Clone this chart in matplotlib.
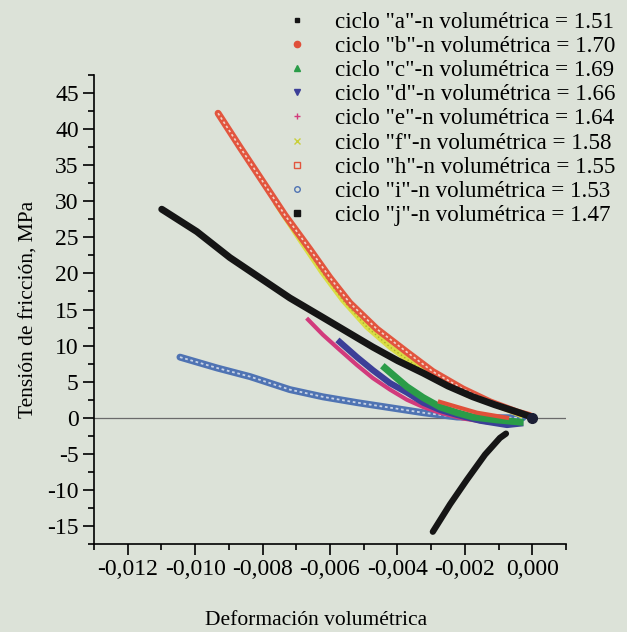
import matplotlib
matplotlib.use("Agg")
import matplotlib.pyplot as plt
from matplotlib.ticker import MultipleLocator, FuncFormatter
from matplotlib.lines import Line2D

# datos (deformacion x1000, tension en MPa)
h_x = [-9.32, -8.67, -7.99, -7.34, -6.59, -6.00, -5.41, -4.61, -3.72, -2.95, -2.06, -1.25, -0.45, -0.07]
h_y = [42.2, 37.5, 32.7, 28.1, 23.3, 19.4, 15.9, 12.3, 9.1, 6.4, 4.0, 2.2, 0.8, 0.3]

f_x = [-7.57, -6.89, -6.24, -5.62, -4.91, -4.22, -3.42, -2.74, -1.94, -1.25, -0.36]
f_y = [29.5, 24.7, 20.2, 16.3, 12.6, 9.8, 7.1, 5.3, 3.2, 2.1, 0.4]

j_x = [-10.99, -9.95, -8.97, -8.08, -7.19, -6.21, -5.20, -4.73, -3.99, -3.24, -2.50, -1.76, -1.11, -0.45, -0.01]
j_y = [28.9, 25.8, 22.2, 19.4, 16.6, 13.9, 11.1, 9.8, 7.9, 6.2, 4.4, 2.9, 1.8, 0.8, 0.1]

e_x = [-6.65, -6.21, -5.71, -5.20, -4.73, -4.22, -3.72, -3.24, -2.74, -2.06, -1.25, -0.51]
e_y = [13.6, 11.5, 9.4, 7.3, 5.5, 3.9, 2.5, 1.5, 0.7, -0.1, -0.7, -0.7]

d_x = [-5.71, -5.20, -4.73, -4.22, -3.72, -3.24, -2.74, -2.23, -1.55, -0.75, -0.36]
d_y = [10.5, 8.4, 6.6, 4.8, 3.5, 2.1, 1.1, 0.4, -0.4, -1.0, -0.8]

c_x = [-4.37, -3.72, -3.24, -2.74, -2.23, -1.76, -1.05, -0.36]
c_y = [6.9, 4.3, 2.8, 1.5, 0.7, 0.1, -0.3, -0.6]

b_x = [-2.74, -2.23, -1.64, -0.75]
b_y = [2.2, 1.5, 0.7, 0.0]

i_x = [-10.45, -9.35, -8.37, -7.19, -6.21, -5.20, -4.22, -3.24, -2.23, -1.25, -0.28]
i_y = [8.4, 6.9, 5.7, 3.9, 2.9, 2.1, 1.4, 0.7, 0.1, 0.0, 0.0]

a_x = [-2.95, -2.44, -1.94, -1.40, -0.96, -0.78]
a_y = [-15.8, -12.0, -8.6, -5.1, -2.8, -2.2]

origen_x = [0.0]
origen_y = [0.0]

labels = ['ciclo "a"-n volumétrica = 1.51',
          'ciclo "b"-n volumétrica = 1.70',
          'ciclo "c"-n volumétrica = 1.69',
          'ciclo "d"-n volumétrica = 1.66',
          'ciclo "e"-n volumétrica = 1.64',
          'ciclo "f"-n volumétrica = 1.58',
          'ciclo "h"-n volumétrica = 1.55',
          'ciclo "i"-n volumétrica = 1.53',
          'ciclo "j"-n volumétrica = 1.47']


def k(v):
    return [x / 1000 for x in v]


plt.rcParams['font.family'] = ['Liberation Serif', 'DejaVu Serif']
plt.rcParams['axes.unicode_minus'] = False

fondo = '#dce2d8'
fig = plt.figure(figsize=(6.27, 6.32), dpi=100, facecolor=fondo)
ax = fig.add_axes([0.1499, 0.1392, 0.7528, 0.7421], facecolor=fondo)

ax.axhline(0, color='#6a6a6a', lw=0.9, zorder=1)

# ciclo i (circulos abiertos)
ax.plot(k(i_x), i_y, color='#4f73b3', lw=5, solid_capstyle='round', zorder=2)
ax.plot(k(i_x), i_y, color='#c8d3e6', lw=1.3, ls=(0, (1.5, 1.5)), zorder=2)
# e, d, c, b
ax.plot(k(e_x), e_y, color='#d23a7c', lw=3, zorder=3)
ax.plot(k(d_x), d_y, color='#3c3f98', lw=4.5, zorder=3)
ax.plot(k(c_x), c_y, color='#2a9c48', lw=5, zorder=4)
ax.plot(k(b_x), b_y, color='#e0503a', lw=3, zorder=4)
# f y h
ax.plot(k(f_x), f_y, color='#d9dd45', lw=4, zorder=5)
ax.plot(k(f_x), f_y, color='#a9ad2c', lw=1, ls=(0, (1, 2)), zorder=5)
ax.plot(k(h_x), h_y, color='#e2553e', lw=5, solid_capstyle='round', zorder=6)
ax.plot(k(h_x), h_y, color='#f2d3c8', lw=1.2, ls=(0, (1.5, 1.5)), zorder=6)
# j y a
ax.plot(k(j_x), j_y, color='#151515', lw=5, solid_capstyle='round', zorder=7)
ax.plot(k(a_x), a_y, color='#151515', lw=4.5, solid_capstyle='round', zorder=7)
ax.plot(origen_x, origen_y, 'o', color='#1c1f35', ms=7, zorder=8)

ax.set_xlim(-0.013, 0.001)
ax.set_ylim(-17.5, 47.5)
ax.xaxis.set_minor_locator(MultipleLocator(0.001))
ax.yaxis.set_minor_locator(MultipleLocator(2.5))
ax.set_xticks([-0.012, -0.010, -0.008, -0.006, -0.004, -0.002, 0.0])
ax.xaxis.set_major_formatter(FuncFormatter(lambda v, p: f"{v:.3f}".replace('.', ',').replace('-0,000', '0,000')))
ax.set_yticks(range(-15, 50, 5))

for s in ['top', 'right']:
    ax.spines[s].set_visible(False)
for s in ['left', 'bottom']:
    ax.spines[s].set_linewidth(1.2)
ax.tick_params(which='major', direction='out', length=8, width=1.2, labelsize=17, pad=3)
ax.tick_params(which='minor', direction='out', length=4, width=1.2)

ax.set_xlabel('Deformación volumétrica', fontsize=15.5)
ax.set_ylabel('Tensión de fricción, MPa', fontsize=15.5)
ax.xaxis.set_label_coords(0.47, -0.143)
ax.yaxis.set_label_coords(-0.118, 0.5)

handles = [
    Line2D([], [], ls='none', marker='s', ms=3.5, color='#151515'),
    Line2D([], [], ls='none', marker='o', ms=4.5, color='#e0503a'),
    Line2D([], [], ls='none', marker='^', ms=5, color='#2a9c48'),
    Line2D([], [], ls='none', marker='v', ms=5, color='#3c3f98'),
    Line2D([], [], ls='none', marker='+', ms=5, color='#d23a7c'),
    Line2D([], [], ls='none', marker='x', ms=4, color='#c9cf3a'),
    Line2D([], [], ls='none', marker='s', ms=5, mfc='none', mec='#e2553e'),
    Line2D([], [], ls='none', marker='o', ms=4, mfc='none', mec='#4f73b3'),
    Line2D([], [], ls='none', marker='s', ms=4.5, color='#151515'),
]
fig.legend(handles, labels, loc='upper left', bbox_to_anchor=(0.441, 0.996),
           frameon=False, fontsize=16.6, labelspacing=0.13, handlelength=1.0,
           handletextpad=1.15, borderaxespad=0)

fig.savefig('out.png', dpi=100, facecolor=fondo)
